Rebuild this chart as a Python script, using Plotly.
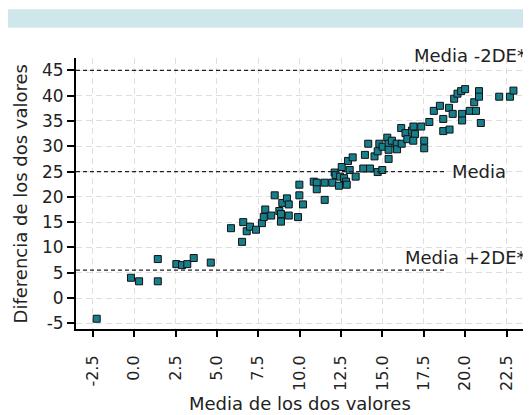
import plotly.graph_objects as go

media = [-2.26, -0.19, 0.30, 1.43, 1.43, 2.55, 2.89, 3.21, 3.60, 4.63,
         5.85, 6.52, 6.59, 6.80, 7.00, 7.36, 7.72, 7.83, 7.92, 8.28,
         8.49, 8.77, 8.87, 8.87, 8.95, 9.23, 9.34, 9.34, 9.90, 9.98,
         9.98, 10.20, 10.85, 11.03, 11.03, 11.51, 11.51, 11.97, 12.11, 12.17,
         12.37, 12.43, 12.54, 12.68, 12.80, 12.84, 12.92, 13.02, 13.20, 13.38,
         13.84, 14.25, 13.94, 14.14, 14.52, 14.71, 14.71, 14.99, 14.81, 15.01,
         15.29, 15.37, 15.37, 15.37, 15.57, 15.86, 15.88, 16.16, 16.13, 16.39,
         16.50, 16.78, 16.87, 16.96, 16.86, 17.34, 17.52, 17.52, 17.83, 18.10,
         18.47, 18.67, 18.67, 19.05, 19.02, 19.24, 19.33, 19.53, 19.75, 19.99,
         19.81, 19.81, 20.27, 20.65, 20.54, 20.83, 20.83, 20.94, 22.05, 22.70,
         22.91]
diferencia = [-4.1, 4.0, 3.3, 3.3, 7.7, 6.7, 6.5, 6.7, 7.9, 7.0,
              13.8, 11.1, 15.0, 13.2, 14.1, 13.5, 14.8, 16.0, 17.5, 16.3,
              20.3, 17.2, 16.6, 15.1, 18.8, 19.7, 18.5, 16.3, 16.0, 22.4,
              20.3, 18.5, 23.0, 22.8, 21.5, 22.8, 19.4, 22.8, 24.8, 24.3,
              22.2, 24.0, 25.9, 23.7, 23.0, 22.4, 27.1, 25.3, 27.8, 24.0,
              25.6, 25.6, 28.3, 30.5, 28.0, 29.0, 24.9, 25.3, 30.5, 29.9,
              31.7, 30.5, 29.3, 27.5, 31.1, 30.5, 29.4, 30.5, 33.6, 32.6,
              31.4, 33.1, 33.9, 32.4, 31.1, 33.9, 31.1, 29.6, 34.8, 37.0,
              38.0, 35.4, 33.0, 33.3, 37.6, 36.4, 39.4, 40.4, 40.9, 41.3,
              36.4, 35.1, 37.0, 37.0, 38.7, 40.9, 39.8, 34.6, 39.8, 39.8,
              41.0]

linea_media = 25.0
linea_menos2de = 45.0
linea_mas2de = 5.5
lineas_fin = 18.77

x_ticks = [-2.5, 0.0, 2.5, 5.0, 7.5, 10.0, 12.5, 15.0, 17.5, 20.0, 22.5]
x_ticktext = ["-2.5", "0.0", "2.5", "5.0", "7.5", "10.0", "12.5", "15.0", "17.5", "20.0", "22.5"]
y_ticks = [-5, 0, 5, 10, 15, 20, 25, 30, 35, 40, 45]
y_ticktext = ["-5", "0", "5", "10", "15", "20", "25", "30", "35", "40", "45"]

FONT = "DejaVu Sans"

fig = go.Figure()
fig.add_trace(go.Scatter(
    x=media, y=diferencia, mode="markers",
    marker=dict(symbol="square", size=7, color="#177e8c",
                line=dict(color="#111111", width=1)),
    showlegend=False, hoverinfo="skip"))

x0 = -3.51
for yv in (linea_menos2de, linea_media, linea_mas2de):
    fig.add_shape(type="line", xref="x", yref="y", x0=x0, x1=lineas_fin, y0=yv, y1=yv,
                  line=dict(color="#222222", width=1.2, dash="4px,3px"), layer="above")

# top band
fig.add_shape(type="rect", xref="paper", yref="paper", x0=-0.1538, x1=1.0,
              y0=1.1118, y1=1.1797, fillcolor="#cfe7eb", line=dict(width=0), layer="below")

fig.add_annotation(x=23.79, y=linea_menos2de, xref="x", yref="y", text="Media -2DE*",
                   xanchor="right", yanchor="bottom", yshift=2, showarrow=False,
                   font=dict(family=FONT, size=18, color="#222222"))
fig.add_annotation(x=19.08, y=linea_media, xref="x", yref="y", text="Media",
                   xanchor="left", yanchor="middle", showarrow=False,
                   font=dict(family=FONT, size=18, color="#222222"))
fig.add_annotation(x=23.79, y=linea_mas2de, xref="x", yref="y", text="Media +2DE*",
                   xanchor="right", yanchor="bottom", yshift=0, showarrow=False,
                   font=dict(family=FONT, size=18, color="#222222"))

fig.add_annotation(x=0.492, y=-0.276, xref="paper", yref="paper", text="Media de los dos valores",
                   xanchor="center", yanchor="middle", showarrow=False,
                   font=dict(family=FONT, size=18, color="#222222"))
fig.add_annotation(x=-0.121, y=0.5, xref="paper", yref="paper", text="Diferencia de los dos valores",
                   xanchor="center", yanchor="middle", textangle=-90, showarrow=False,
                   font=dict(family=FONT, size=18, color="#222222"))

grid = dict(showgrid=True, gridcolor="#dedede", gridwidth=1, griddash="6px,4px", zeroline=False)

fig.update_xaxes(range=[-3.51, 23.97], tickvals=x_ticks, ticktext=x_ticktext, tickangle=-90,
                 showline=True, linecolor="black", linewidth=2, ticks="outside", ticklen=6,
                 tickwidth=1.5, tickcolor="black", ticklabelstandoff=12,
                 tickfont=dict(family=FONT, size=16, color="#222222"), **grid)
fig.update_yaxes(range=[-6.13, 47.45], tickvals=y_ticks, ticktext=y_ticktext,
                 showline=True, linecolor="black", linewidth=2, ticks="outside", ticklen=7,
                 tickwidth=1.5, tickcolor="black",
                 tickfont=dict(family=FONT, size=17, color="#222222"), **grid)

# the page body has an 8px margin, so the figure is sized and offset to compensate
fig.update_layout(width=523, height=407, margin=dict(l=68, r=0, t=50, b=86),
                  plot_bgcolor="white", paper_bgcolor="white",
                  font=dict(family=FONT, color="#222222"))

fig.write_html("out.html")
